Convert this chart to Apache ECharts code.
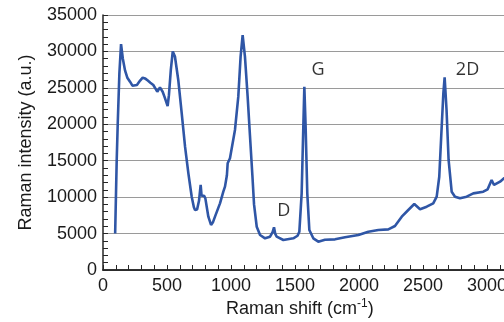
<!DOCTYPE html>
<html>
<head>
<meta charset="utf-8">
<script src="https://cdn.jsdelivr.net/npm/echarts@6/dist/echarts.min.js"></script>
<style>
  html, body { margin: 0; padding: 0; background: #fff; }
  #chart { width: 504px; height: 322px; }
</style>
</head>
<body>
<div id="chart"></div>
<script>
  // spectrum (cm-1, a.u.)
  const ramanShift = [
    95, 107, 115, 128, 141, 155, 172, 190, 211, 230, 245, 265, 290, 310, 328, 350, 370, 393, 410, 424,
    445, 455, 466, 480, 505, 515, 530, 545, 562, 588, 615, 641, 667, 693, 710, 719, 735, 750, 763, 770,
    776, 790, 800, 823, 844, 860, 875, 914, 940, 953, 968, 974, 992, 1005, 1031, 1057, 1075, 1091, 1109, 1130,
    1148, 1167, 1180, 1201, 1227, 1266, 1305, 1325, 1336, 1345, 1357, 1409, 1487, 1520, 1534, 1552, 1565, 1573, 1583, 1596,
    1612, 1643, 1682, 1734, 1813, 1891, 1995, 2073, 2151, 2229, 2281, 2334, 2385, 2432, 2477, 2529, 2580, 2607, 2627, 2646,
    2659, 2669, 2684, 2700, 2724, 2750, 2789, 2841, 2893, 2971, 3005, 3036, 3055, 3102, 3133, 3200
  ];
  const intensity = [
    5000, 15000, 20000, 27000, 31000, 29000, 27400, 26400, 25850, 25300, 25070, 25400, 26000, 26400, 26300, 26000, 25700, 25390, 24900, 24470,
    25070, 24900, 24470, 23800, 22510, 24000, 27500, 30000, 29300, 26080, 21500, 16930, 13270, 10060, 8600, 8235, 8300, 9500, 11670, 10200,
    10060, 10200, 9800, 7320, 6180, 6600, 7320, 9150, 10750, 11440, 13000, 14650, 15330, 15560, 19220, 23790, 29280, 32250, 29280, 23790,
    18500, 13000, 9000, 5940, 4800, 4350, 4570, 5200, 5860, 5000, 4570, 4120, 4350, 4700, 5260, 10520, 19670, 25160, 19670, 10520,
    5490, 4350, 3890, 4150, 4210, 4490, 4800, 5260, 5490, 5580, 6040, 7320, 8235, 9060, 8350, 8690, 9150, 10060, 12800, 19670,
    24250, 26450, 21960, 15100, 10750, 10060, 9840, 10060, 10520, 10750, 11080, 12350, 11670, 12120, 12580, 12900
  ];

  // peak labels and where they sit (data units)
  const peakNames = ['D', 'G', '2D'];
  const peakLabelX = [1412, 1680, 2848];
  const peakLabelY = [8100, 27450, 27450];

  const textColor = '#1a1a1a';
  const axisColor = '#262626';

  // fine ticks (every 100 cm-1 / every 1000 counts) drawn by extra label-less axes
  const fineTick = { show: true, inside: true, length: 5, lineStyle: { color: axisColor, width: 1 } };

  const chart = echarts.init(document.getElementById('chart'), null, { renderer: 'canvas' });

  chart.setOption({
    animation: false,
    backgroundColor: '#fff',
    // plot runs past the right edge of the picture, like the reference
    grid: { left: 103, top: 15, width: 448, height: 255, outerBoundsMode: 'none', containLabel: false },
    xAxis: [{
      type: 'value',
      min: 0,
      max: 3500,
      interval: 500,
      axisLine: { show: true, onZero: false, lineStyle: { color: axisColor, width: 1.5 } },
      axisTick: { show: false },
      axisLabel: { color: textColor, fontSize: 18, fontFamily: 'Liberation Sans', margin: 7, formatter: v => String(v), hideOverlap: false },
      splitLine: { show: false }
    }, {
      // top border of the plot
      type: 'value',
      position: 'top',
      min: 0,
      max: 3500,
      axisLine: { show: true, lineStyle: { color: axisColor, width: 1.5 } },
      axisTick: { show: false },
      axisLabel: { show: false },
      splitLine: { show: false }
    }, {
      type: 'value',
      position: 'bottom',
      min: 0,
      max: 3500,
      interval: 100,
      axisLine: { show: false, onZero: false },
      axisTick: fineTick,
      axisLabel: { show: false },
      splitLine: { show: false }
    }],
    yAxis: [{
      type: 'value',
      min: 0,
      max: 35000,
      interval: 5000,
      name: 'Raman intensity (a.u.)',
      nameLocation: 'middle',
      nameGap: 68,
      nameTextStyle: { color: textColor, fontSize: 18, fontFamily: 'Liberation Sans' },
      axisLine: { show: true, onZero: false, lineStyle: { color: axisColor, width: 1.5 } },
      axisTick: { show: false },
      axisLabel: { color: textColor, fontSize: 18, fontFamily: 'Liberation Sans', margin: 6, formatter: v => String(v) },
      splitLine: { show: true, lineStyle: { color: '#9a9a9a', width: 1.2 } }
    }, {
      type: 'value',
      position: 'left',
      min: 0,
      max: 35000,
      interval: 1000,
      axisLine: { show: false, onZero: false },
      axisTick: fineTick,
      axisLabel: { show: false },
      splitLine: { show: false }
    }],
    graphic: [{
      type: 'text',
      left: 226,
      top: 298,
      style: {
        text: '{n|Raman shift (cm}{s|-1}{n|)}',
        rich: {
          n: { fontSize: 18, fontFamily: 'Liberation Sans', fill: textColor, verticalAlign: 'bottom' },
          s: { fontSize: 12, fontFamily: 'Liberation Sans', fill: textColor, verticalAlign: 'top', padding: [0, 0, 8, 0] }
        }
      }
    }],
    series: [{
      type: 'line',
      xAxisIndex: 0,
      yAxisIndex: 0,
      data: ramanShift.map((x, i) => [x, intensity[i]]),
      showSymbol: false,
      symbol: 'none',
      lineStyle: { color: '#2f56a6', width: 2.6 },
      z: 3
    }, {
      type: 'scatter',
      xAxisIndex: 0,
      yAxisIndex: 0,
      data: peakNames.map((n, i) => ({ value: [peakLabelX[i], peakLabelY[i]], name: n })),
      symbolSize: 0,
      label: {
        show: true,
        position: 'inside',
        formatter: p => p.name,
        color: '#000',
        fontSize: 18,
        fontFamily: 'Open Sans'
      },
      z: 4
    }]
  });
</script>
</body>
</html>
